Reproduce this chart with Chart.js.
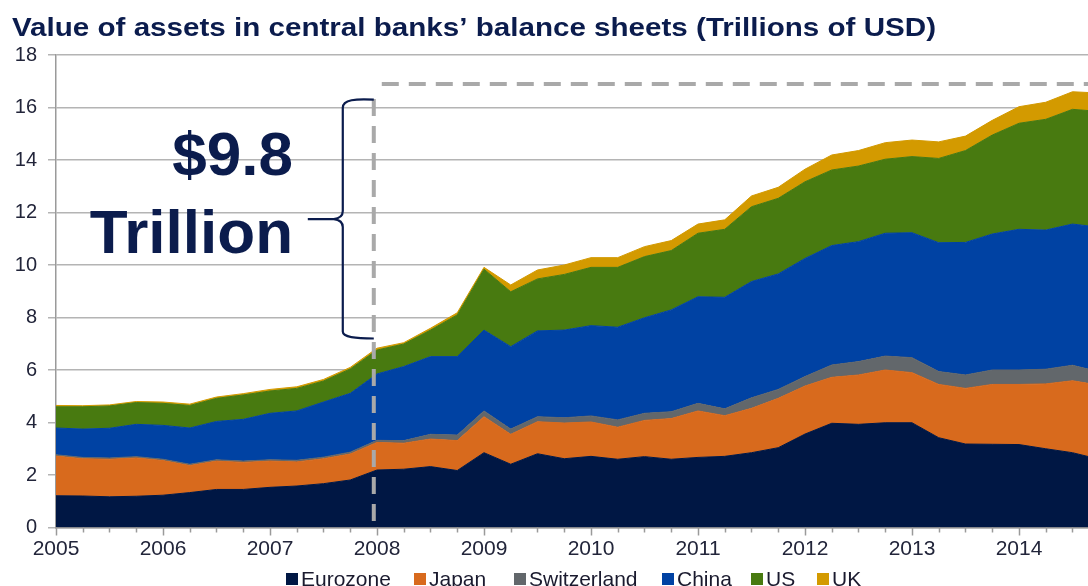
<!DOCTYPE html>
<html>
<head>
<meta charset="utf-8">
<script src="https://cdn.jsdelivr.net/npm/chart.js@4.4.1/dist/chart.umd.min.js"></script>
<style>
  html, body { margin: 0; padding: 0; background: #ffffff; overflow: hidden; }
  #wrap { width: 1088px; height: 586px; position: relative; }
</style>
</head>
<body>
<div id="wrap"><canvas id="chart" width="1088" height="586"></canvas></div>
<script>
// Quarter-end positions (in fractional years) for each observation
const quarters = [
  2005.00, 2005.25, 2005.50, 2005.75,
  2006.00, 2006.25, 2006.50, 2006.75,
  2007.00, 2007.25, 2007.50, 2007.75,
  2008.00, 2008.25, 2008.50, 2008.75,
  2009.00, 2009.25, 2009.50, 2009.75,
  2010.00, 2010.25, 2010.50, 2010.75,
  2011.00, 2011.25, 2011.50, 2011.75,
  2012.00, 2012.25, 2012.50, 2012.75,
  2013.00, 2013.25, 2013.50, 2013.75,
  2014.00, 2014.25, 2014.50, 2014.75
];

// Central bank assets, trillions of USD
const eurozone = [1.21,1.20,1.17,1.19,1.23,1.33,1.45,1.45,1.53,1.58,1.67,1.81,2.19,2.22,2.32,2.17,2.85,2.41,2.81,2.62,2.71,2.60,2.70,2.60,2.67,2.71,2.85,3.04,3.56,3.97,3.93,3.99,3.99,3.42,3.18,3.17,3.16,3.00,2.85,2.60];
const japan = [1.51,1.42,1.43,1.46,1.32,1.03,1.08,1.03,1.00,0.92,0.95,0.99,1.05,0.99,1.05,1.14,1.37,1.14,1.22,1.36,1.31,1.22,1.38,1.55,1.77,1.55,1.69,1.88,1.83,1.75,1.88,2.01,1.91,2.03,2.12,2.28,2.29,2.47,2.74,2.82];
const switzerland = [0.05,0.05,0.05,0.05,0.05,0.05,0.05,0.05,0.05,0.06,0.06,0.07,0.08,0.10,0.18,0.21,0.22,0.20,0.19,0.20,0.23,0.28,0.27,0.26,0.29,0.26,0.40,0.34,0.36,0.47,0.51,0.53,0.57,0.49,0.51,0.55,0.55,0.56,0.59,0.51];
const china = [1.02,1.08,1.13,1.23,1.29,1.38,1.46,1.59,1.77,1.88,2.10,2.24,2.53,2.82,2.96,2.99,3.08,3.14,3.27,3.34,3.44,3.53,3.64,3.88,4.06,4.25,4.43,4.40,4.50,4.55,4.57,4.68,4.76,4.91,5.05,5.18,5.36,5.30,5.38,5.51];
const us = [0.81,0.85,0.85,0.83,0.84,0.86,0.88,0.93,0.85,0.86,0.80,0.93,0.91,0.86,1.01,1.59,2.32,2.09,1.98,2.12,2.22,2.28,2.33,2.26,2.42,2.59,2.85,2.88,2.92,2.88,2.88,2.82,2.90,3.21,3.50,3.77,4.04,4.22,4.37,4.41];
const uk = [0.05,0.04,0.04,0.04,0.05,0.05,0.05,0.05,0.06,0.06,0.06,0.06,0.07,0.05,0.07,0.08,0.07,0.26,0.34,0.36,0.37,0.37,0.38,0.38,0.35,0.36,0.41,0.42,0.48,0.57,0.59,0.63,0.63,0.63,0.55,0.56,0.63,0.65,0.67,0.70];

const yearTicks = [2005, 2006, 2007, 2008, 2009, 2010, 2011, 2012, 2013, 2014];

const titleText = 'Value of assets in central banks\u2019 balance sheets (Trillions of USD)';
const calloutLines = ['$9.8', 'Trillion'];
const bracketTop = 16.3;     // top of the curly brace (trillions)
const bracketBottom = 7.2;   // bottom of the curly brace (trillions)
const refYear = 2007.97;     // vertical dashed reference
const refLevel = 16.9;       // horizontal dashed reference

const FONT = '"Liberation Sans", Arial, Helvetica, sans-serif';
const NAVY = '#0b1c4d';

const seriesDefs = [
  { label: 'Eurozone',    data: eurozone,    color: '#001744', legendX: 286 },
  { label: 'Japan',       data: japan,       color: '#d86a1d', legendX: 414 },
  { label: 'Switzerland', data: switzerland, color: '#62676b', legendX: 514 },
  { label: 'China',       data: china,       color: '#0042a3', legendX: 662 },
  { label: 'US',          data: us,          color: '#487a10', legendX: 751 },
  { label: 'UK',          data: uk,          color: '#d39a00', legendX: 817 }
];

const datasets = seriesDefs.map((s, i) => ({
  label: s.label,
  data: s.data.map((v, k) => ({ x: quarters[k], y: v })),
  backgroundColor: s.color,
  borderColor: s.color,
  borderWidth: 1,
  pointRadius: 0,
  tension: 0,
  fill: i === 0 ? 'origin' : '-1'
}));

const decorations = {
  id: 'decorations',
  afterDatasetsDraw(chart) {
    const { ctx, chartArea, scales: { x, y } } = chart;
    ctx.save();
    // dashed reference lines
    ctx.strokeStyle = '#a9a9a9';
    ctx.lineWidth = 4;
    ctx.setLineDash([17, 10]);
    const vx = x.getPixelForValue(refYear);
    const hy = y.getPixelForValue(refLevel);
    ctx.beginPath();
    ctx.moveTo(vx, hy + 15);
    ctx.lineTo(vx, chartArea.bottom);
    ctx.stroke();
    ctx.beginPath();
    ctx.moveTo(vx + 8, hy);
    ctx.lineTo(chartArea.right, hy);
    ctx.stroke();
    ctx.setLineDash([]);

    // curly brace spanning the increase
    const top = y.getPixelForValue(bracketTop);
    const bot = y.getPixelForValue(bracketBottom);
    const mid = (top + bot) / 2;
    const right = vx;
    const bx = vx - 31;
    const tip = vx - 66;
    ctx.strokeStyle = NAVY;
    ctx.lineWidth = 2.2;
    ctx.beginPath();
    ctx.moveTo(right, top);
    ctx.bezierCurveTo(right - 18, top - 1, bx, top, bx, top + 8);
    ctx.lineTo(bx, mid - 8);
    ctx.quadraticCurveTo(bx, mid - 1, bx - 9, mid);
    ctx.lineTo(tip, mid);
    ctx.moveTo(bx - 9, mid);
    ctx.quadraticCurveTo(bx, mid + 1, bx, mid + 8);
    ctx.lineTo(bx, bot - 7);
    ctx.bezierCurveTo(bx, bot - 1, right - 18, bot, right, bot);
    ctx.stroke();

    // callout text
    ctx.fillStyle = NAVY;
    ctx.font = 'bold 62px ' + FONT;
    ctx.textAlign = 'right';
    ctx.textBaseline = 'alphabetic';
    ctx.fillText(calloutLines[0], 293, 175);
    ctx.fillText(calloutLines[1], 293, 253);
    ctx.restore();
  },
  afterDraw(chart) {
    const { ctx, chartArea, scales: { x } } = chart;
    ctx.save();
    // quarterly tick marks, longer at year boundaries
    ctx.strokeStyle = '#9a9a9a';
    ctx.lineWidth = 1.5;
    quarters.forEach((q) => {
      if (q > x.max) return;
      const px = Math.round(x.getPixelForValue(q)) + 0.5;
      const major = Number.isInteger(q);
      ctx.beginPath();
      ctx.moveTo(px, chartArea.bottom);
      ctx.lineTo(px, chartArea.bottom + (major ? 8 : 5));
      ctx.stroke();
    });

    // title (slightly widened lettering)
    ctx.fillStyle = NAVY;
    ctx.font = 'bold 25px ' + FONT;
    ctx.textAlign = 'left';
    ctx.textBaseline = 'alphabetic';
    const tw = ctx.measureText(titleText).width;
    ctx.save();
    ctx.translate(12, 36);
    ctx.scale(924 / tw, 1);
    ctx.fillText(titleText, 0, 0);
    ctx.restore();

    // legend
    ctx.font = '21px ' + FONT;
    const ly = 586;
    seriesDefs.forEach((s) => {
      ctx.fillStyle = s.color;
      ctx.fillRect(s.legendX, ly - 13, 12, 12);
      ctx.fillStyle = '#1a1a2e';
      ctx.fillText(s.label, s.legendX + 15, ly);
    });
    ctx.restore();
  }
};

new Chart(document.getElementById('chart'), {
  type: 'line',
  data: { datasets },
  options: {
    responsive: false,
    animation: false,
    devicePixelRatio: 1,
    layout: { padding: { top: 55, right: 0, bottom: 0, left: 0 } },
    plugins: { legend: { display: false }, title: { display: false }, tooltip: { enabled: false } },
    elements: { line: { borderJoinStyle: 'miter' } },
    scales: {
      x: {
        type: 'linear',
        min: 2005,
        max: 2014.645,
        afterFit(scale) { scale.height = 58.5; },
        grid: { display: false, drawTicks: false },
        border: { display: true, color: '#9a9a9a', width: 1.5 },
        ticks: {
          stepSize: 1,
          includeBounds: false,
          autoSkip: false,
          maxRotation: 0,
          padding: 9,
          color: '#22253a',
          font: { family: FONT, size: 21 },
          callback: (v) => (yearTicks.includes(v) ? String(v) : '')
        }
      },
      y: {
        stacked: true,
        min: 0,
        max: 18,
        afterFit(scale) { scale.width = 56; },
        grid: { color: '#b4b4b4', lineWidth: 1.5, tickLength: 8, drawTicks: true },
        border: { display: true, color: '#9a9a9a', width: 1.5 },
        ticks: {
          stepSize: 2,
          padding: 11,
          color: '#22253a',
          font: { family: FONT, size: 20 }
        }
      }
    }
  },
  plugins: [decorations]
});
</script>
</body>
</html>
